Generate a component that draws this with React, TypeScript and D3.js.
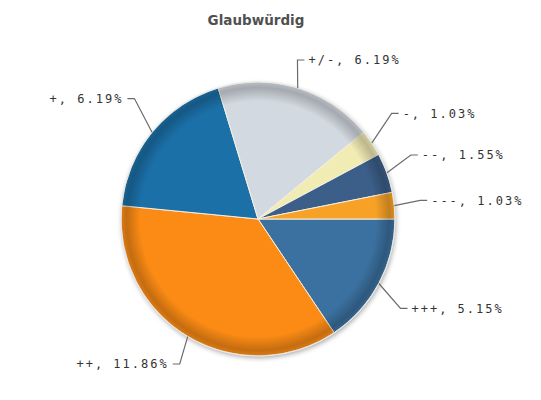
import React from "react";
import * as d3 from "d3";

const categories = ["+++", "++", "+", "+/-", "-", "--", "---"];
const values = [5.15, 11.86, 6.19, 6.19, 1.03, 1.55, 1.03];
const colors = ["#3b71a0", "#fb8b15", "#1b70a8", "#d2d9e0", "#f1ebb4", "#3c5f89", "#f7a227"];
const title = "Glaubwürdig";

const W = 541;
const H = 400;
const cx = 258;
const cy = 219;
const r = 137;
const Rx = 174;
const Ry = 190;
const yMin = 60;
const yMax = 364;

export default function App() {
  const data = categories.map((c, i) => ({ name: c, value: values[i], color: colors[i] }));
  const pie = d3
    .pie<any>()
    .value((d: any) => d.value)
    .sort(null)
    .startAngle(Math.PI / 2)
    .endAngle(Math.PI / 2 + 2 * Math.PI);
  const arcs = pie(data);
  const arcGen = d3.arc<any>().innerRadius(0).outerRadius(r);

  // label layout
  const labels = arcs.map((a: any) => {
    const mid = (a.startAngle + a.endAngle) / 2;
    const sx = Math.sin(mid);
    const sy = -Math.cos(mid);
    const right = sx >= 0;
    let y = cy + Ry * sy;
    y = Math.max(yMin, Math.min(yMax, y));
    const tx = cx + Rx * sx;
    return {
      name: a.data.name,
      value: a.data.value,
      right,
      y,
      tx,
      ex: cx + r * sx,
      ey: cy + r * sy,
    };
  });
  // spacing per side
  [true, false].forEach((side) => {
    const s = labels.filter((l) => l.right === side).sort((a, b) => a.y - b.y);
    for (let i = 1; i < s.length; i++) {
      if (s[i].y - s[i - 1].y < 16) s[i].y = s[i - 1].y + 16;
    }
  });

  return (
    <svg width={W} height={H} style={{ display: "block", position: "absolute", left: 0, top: 0 }}>
      <defs>
        <filter id="shadow" x="-20%" y="-20%" width="140%" height="140%">
          <feDropShadow dx="1" dy="2" stdDeviation="2.5" floodColor="#000" floodOpacity="0.35" />
        </filter>
        <radialGradient id="rim" gradientUnits="userSpaceOnUse" cx={cx} cy={cy} r={r}>
          <stop offset="0" stopColor="#000" stopOpacity="0" />
          <stop offset="0.86" stopColor="#000" stopOpacity="0" />
          <stop offset="0.96" stopColor="#000" stopOpacity="0.22" />
          <stop offset="1" stopColor="#000" stopOpacity="0.12" />
        </radialGradient>
      </defs>
      <rect x={0} y={0} width={W} height={H} fill="#fff" />
      <text
        x={256}
        y={25}
        textAnchor="middle"
        fontFamily="DejaVu Sans, Verdana, sans-serif"
        fontWeight="bold"
        fontSize={13.5}
        fill="#505050"
      >
        {title}
      </text>
      <circle cx={cx} cy={cy} r={r} fill="#fff" filter="url(#shadow)" />
      <g transform={`translate(${cx},${cy})`}>
        {arcs.map((a: any, i: number) => (
          <path key={i} d={arcGen(a) as string} fill={a.data.color} stroke="#f6efe2" strokeWidth={1} strokeLinejoin="round" />
        ))}
      </g>
      <circle cx={cx} cy={cy} r={r} fill="url(#rim)" />
      <circle cx={cx} cy={cy} r={r} fill="none" stroke="#e8e8e8" strokeOpacity={0.8} strokeWidth={1.2} />
      {labels.map((l, i) => {
        const bx = l.right ? l.tx - 11 : l.tx + 11;
        const endX = l.right ? l.tx - 4 : l.tx + 4;
        const path = `M${l.ex},${l.ey}L${bx},${l.y}L${endX},${l.y}`;
        return (
          <g key={i}>
            <path d={path} fill="none" stroke="#6b6b6b" strokeWidth={1.2} />
            <text
              x={l.tx}
              y={l.y}
              dy="0.36em"
              textAnchor={l.right ? "start" : "end"}
              fontFamily="DejaVu Sans Mono, monospace"
              fontSize={12}
              letterSpacing={2}
              fill="#333"
            >
              {`${l.name}, ${l.value.toFixed(2)}%`}
            </text>
          </g>
        );
      })}
    </svg>
  );
}
